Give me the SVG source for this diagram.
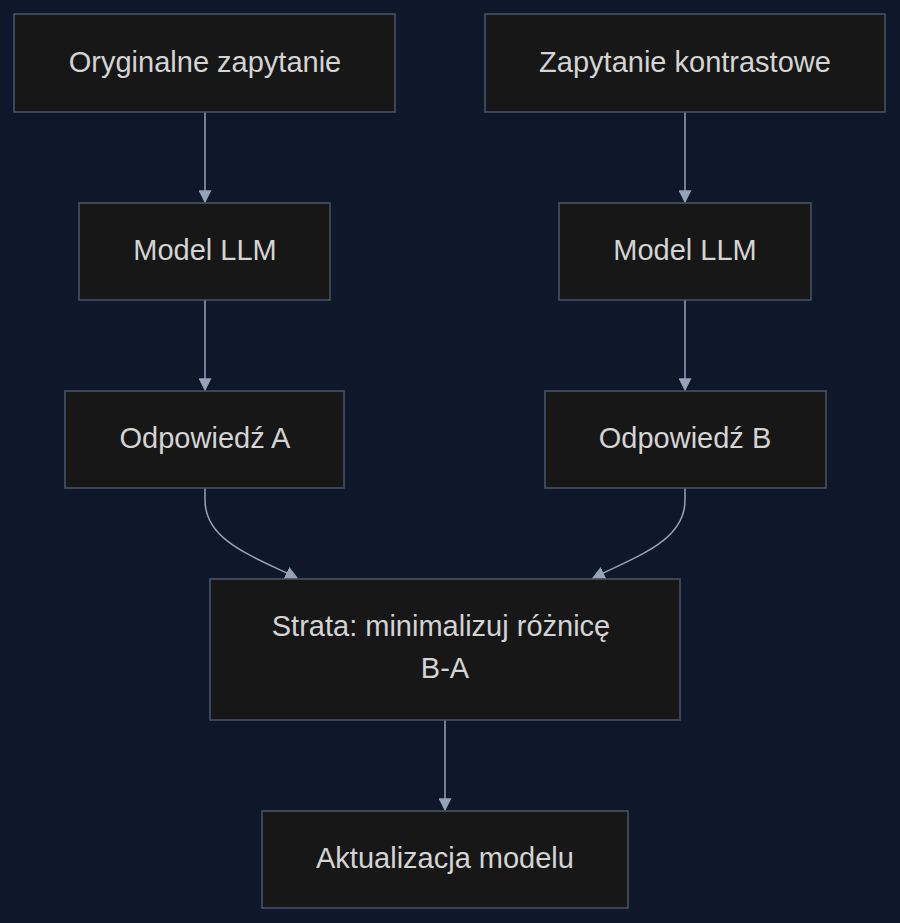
<svg xmlns="http://www.w3.org/2000/svg" width="900" height="923" viewBox="0 0 900 923">
<style>
.n rect{fill:#171717;stroke:#4a5568;stroke-width:1.5}
.n text{fill:#d4d4d4;font-family:"Liberation Sans",Arial,sans-serif;font-size:29px;text-anchor:middle;dominant-baseline:central}
.e path{fill:none;stroke:#94a3b8;stroke-width:1.5}
</style>
<defs><marker id="a" viewBox="0 0 10 10" refX="9" refY="5" markerWidth="13" markerHeight="13" markerUnits="userSpaceOnUse" orient="auto"><path d="M0,0L10,5L0,10z" fill="#94a3b8"/></marker></defs>
<rect width="900" height="923" fill="#0f172a"/>
<g class="e">
<path d="M205,112V202" marker-end="url(#a)"/>
<path d="M685,112V202" marker-end="url(#a)"/>
<path d="M205,300V390" marker-end="url(#a)"/>
<path d="M685,300V390" marker-end="url(#a)"/>
<path d="M205,488V500C205,540 250,555 297,578" marker-end="url(#a)"/>
<path d="M685,488V500C685,540 640,555 593,578" marker-end="url(#a)"/>
<path d="M445,720V810" marker-end="url(#a)"/>
</g>
<g class="n" id="n1"><rect x="14" y="14" width="381" height="98"/><text x="205" y="62">Oryginalne zapytanie</text></g>
<g class="n" id="n2"><rect x="485" y="14" width="400" height="98"/><text x="685" y="62">Zapytanie kontrastowe</text></g>
<g class="n" id="n3"><rect x="79" y="203" width="251" height="97"/><text x="205" y="250">Model LLM</text></g>
<g class="n" id="n4"><rect x="559" y="203" width="252" height="97"/><text x="685" y="250">Model LLM</text></g>
<g class="n" id="n5"><rect x="65" y="391" width="279" height="97"/><text x="205" y="438">Odpowiedź A</text></g>
<g class="n" id="n6"><rect x="545" y="391" width="281" height="97"/><text x="685" y="438">Odpowiedź B</text></g>
<g class="n" id="n7"><rect x="210" y="579" width="470" height="141"/><text x="441" y="626">Strata: minimalizuj różnicę</text><text x="445" y="668">B-A</text></g>
<g class="n" id="n8"><rect x="262" y="811" width="366" height="97"/><text x="445" y="858">Aktualizacja modelu</text></g>
</svg>
